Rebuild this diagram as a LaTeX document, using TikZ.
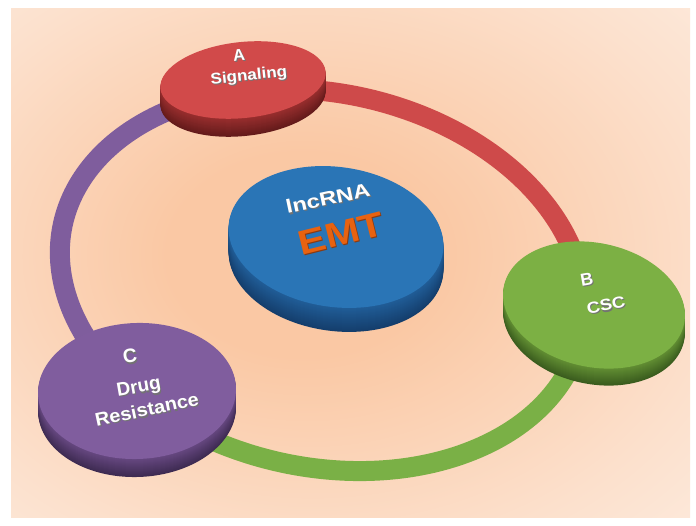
\documentclass[tikz,border=0pt]{standalone}
\usepackage{fontspec}
\setmainfont{Liberation Sans}
\definecolor{glowin}{RGB}{250,200,164}
\definecolor{glowmid}{RGB}{252,224,204}
\definecolor{glowout}{RGB}{254,247,242}
\pgfdeclareradialshading{glow}{\pgfpoint{-4bp}{1bp}}{color(0bp)=(glowin); color(10bp)=(glowin); color(30bp)=(glowmid); color(52bp)=(glowout); color(80bp)=(glowout)}
\definecolor{redtop}{RGB}{209,74,74}
\definecolor{redsideA}{RGB}{150,45,45}
\definecolor{redsideB}{RGB}{100,27,27}
\definecolor{bluetop}{RGB}{42,117,182}
\definecolor{bluesideA}{RGB}{32,92,150}
\definecolor{bluesideB}{RGB}{20,62,108}
\definecolor{greentop}{RGB}{124,176,68}
\definecolor{greensideA}{RGB}{96,140,50}
\definecolor{greensideB}{RGB}{58,92,30}
\definecolor{purptop}{RGB}{128,93,158}
\definecolor{purpsideA}{RGB}{100,70,126}
\definecolor{purpsideB}{RGB}{62,43,82}
\definecolor{ringred}{RGB}{206,74,74}
\definecolor{ringgreen}{RGB}{122,176,70}
\definecolor{ringpurple}{RGB}{127,93,157}
\definecolor{embshadow}{RGB}{115,115,115}
\definecolor{emtorange}{RGB}{232,98,16}
\definecolor{emtshadow}{RGB}{140,58,16}
\newcommand{\fs}[1]{\fontsize{#1}{#1}\selectfont\bfseries}
\newcommand{\emb}[2][embshadow]{\leavevmode\rlap{\kern0.8pt\raisebox{-1.4pt}{\textcolor{#1}{#2}}}#2}
% x, y, rx, ry, rot, thickness, colour prefix
\newcommand{\mydisk}[7]{%
  \foreach \i in {#6,...,1}{%
    \pgfmathtruncatemacro\pp{100*(\i-1)/(#6-1)}%
    \fill[#7sideB!\pp!#7sideA, rotate around={#5:(#1,#2-\i)}] (#1,#2-\i) ellipse[x radius=#3, y radius=#4];
  }%
  \fill[#7top, rotate around={#5:(#1,#2)}] (#1,#2) ellipse[x radius=#3, y radius=#4];
}
\begin{document}
\begin{tikzpicture}[x=1pt,y=1pt,
  ring/.style={line width=20pt},
  lbl/.style={text=white, inner sep=0pt}]
\useasboundingbox (0,0) rectangle (696,526);
\fill[white] (0,0) rectangle (696,526);
\shade[shading=glow] (11,8) rectangle (690,517);
% ring arcs (one ellipse, three coloured segments)
\begin{scope}[shift={(322,246)}, rotate=-12]
  \coordinate (ringc) at (0,0);
  \draw[ring, ringred] (5:265 and 187) arc[start angle=5, end angle=120, x radius=265, y radius=187];
  \draw[ring, ringpurple] (110:265 and 187) arc[start angle=110, end angle=240, x radius=265, y radius=187];
  \draw[ring, ringgreen] (225:265 and 187) arc[start angle=225, end angle=375, x radius=265, y radius=187];
\end{scope}
% disks
\mydisk{243}{446}{83}{38}{6}{18}{red}
\mydisk{594}{221}{92}{62}{-12}{17}{green}
\mydisk{137}{135}{99}{68}{2}{18}{purp}
\mydisk{336}{289}{108}{70}{-8}{24}{blue}
% labels
\node[lbl, font=\fs{16.5}, rotate=6] (la) at (239,470) {\emb{A}};
\node[lbl, font=\fs{15.5}, rotate=6, xscale=1.1] (lsig) at (249,449) {\emb{Signaling}};
\node[lbl, font=\fs{19}, rotate=12, xscale=1.25] (llnc) at (328,327) {\emb{lncRNA}};
\node[lbl, font=\fs{34}, rotate=14, xscale=1.22, text=emtorange] (lemt) at (341,292) {\emb[emtshadow]{EMT}};
\node[lbl, font=\fs{17.5}, rotate=10] (lb) at (587,246) {\emb{B}};
\node[lbl, font=\fs{16}, rotate=12, xscale=1.15] (lcsc) at (606,220) {\emb{CSC}};
\node[lbl, font=\fs{19.5}, rotate=8] (lc) at (130,169) {\emb{C}};
\node[lbl, font=\fs{19}, rotate=10] (ldrug) at (139,137) {\emb{Drug}};
\node[lbl, font=\fs{18.5}, rotate=12, xscale=1.08] (lres) at (147,116) {\emb{Resistance}};
\end{tikzpicture}
\end{document}
